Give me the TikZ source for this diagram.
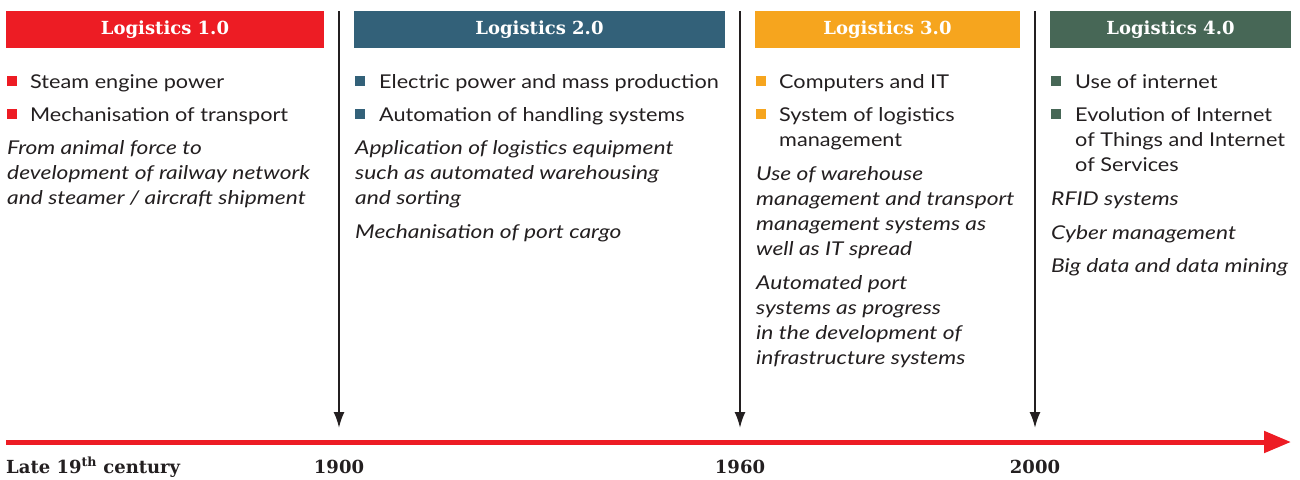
\documentclass[tikz,border=0pt]{standalone}
\usepackage{fontspec}
\setmainfont{Lato}[FakeStretch=1.14]
\newfontfamily\notefont{Lato}[FakeStretch=1.2]
\newfontfamily\headfont{DejaVu Serif}
\usetikzlibrary{positioning,arrows.meta}
\definecolor{logred}{HTML}{ED1C24}
\definecolor{logblue}{HTML}{336179}
\definecolor{logorange}{HTML}{F6A51E}
\definecolor{loggreen}{HTML}{476756}
\definecolor{logtext}{HTML}{231F20}
% multi-line nodes: the base anchor sits on the last line
\tikzset{head/.style = {rectangle,inner sep=0pt,minimum height=37pt,text=white,
                        font=\headfont\bfseries\fontsize{18}{20}\selectfont},
         bullet/.style = {rectangle,inner sep=0pt,minimum size=10pt},
         item/.style = {anchor=base west,inner sep=0pt,align=left,text=logtext,
                        font=\fontsize{19}{25}\selectfont},
         note/.style = {item,font=\notefont\itshape\fontsize{19}{25}\selectfont},
         era/.style = {draw=logtext,line width=2pt,-{Latex[length=16pt,width=11pt]}},
         year/.style = {anchor=base,inner sep=0pt,text=logtext,
                        font=\headfont\bfseries\fontsize{18}{22}\selectfont}}

\begin{document}
\begin{tikzpicture}[x=1pt,y=-1pt]
    \useasboundingbox (0,0) rectangle (1300,479);

    % headers
    \node [head,fill=logred,   minimum width=318pt] (h1) at ( 165,29.5) {Logistics 1.0};
    \node [head,fill=logblue,  minimum width=371pt] (h2) at (539.5,29.5) {Logistics 2.0};
    \node [head,fill=logorange,minimum width=265pt] (h3) at (887.5,29.5) {Logistics 3.0};
    \node [head,fill=loggreen, minimum width=241pt] (h4) at (1170.5,29.5) {Logistics 4.0};

    % Logistics 1.0
    \node [bullet,fill=logred] (b11) at (12,81) {};
    \node [bullet,fill=logred] (b12) at (12,114) {};
    \node [item] (i11) at (30,88)  {Steam engine power};
    \node [item] (i12) at (30,121) {Mechanisation of transport};
    \node [note] (n11) at (7,204)  {From animal force to\\development of railway network\\and steamer / aircraft shipment};

    % Logistics 2.0
    \node [bullet,fill=logblue] (b21) at (360,81) {};
    \node [bullet,fill=logblue] (b22) at (360,114) {};
    \node [item] (i21) at (379,88)  {Electric power and mass production};
    \node [item] (i22) at (379,121) {Automation of handling systems};
    \node [note] (n21) at (355,204) {Application of logistics equipment\\such as automated warehousing\\and sorting};
    \node [note] (n22) at (355,238) {Mechanisation of port cargo};

    % Logistics 3.0
    \node [bullet,fill=logorange] (b31) at (761,81) {};
    \node [bullet,fill=logorange] (b32) at (761,114) {};
    \node [item] (i31) at (779,88)  {Computers and IT};
    \node [item] (i32) at (779,146) {System of logistics\\management};
    \node [note] (n31) at (756,255) {Use of warehouse\\management and transport\\management systems as\\well as IT spread};
    \node [note] (n32) at (756,364) {Automated port\\systems as progress\\in the development of\\infrastructure systems};

    % Logistics 4.0
    \node [bullet,fill=loggreen] (b41) at (1056,81) {};
    \node [bullet,fill=loggreen] (b42) at (1056,114) {};
    \node [item] (i41) at (1075,88)  {Use of internet};
    \node [item] (i42) at (1075,171) {Evolution of Internet\\of Things and Internet\\of Services};
    \node [note] (n41) at (1051,205) {RFID systems};
    \node [note] (n42) at (1051,239) {Cyber management};
    \node [note] (n43) at (1051,272) {Big data and data mining};

    % time line
    \coordinate (axL) at (6,442);
    \coordinate (axR) at (1291,442);
    \draw [logred,line width=5pt,-{Triangle[length=27pt,width=21pt]}] (axL) -- (axR);

    \node [year,anchor=base west] (y0) at (6,473) {Late 19\textsuperscript{th} century};
    \node [year] (y1) at (339,473) {1900};
    \node [year] (y2) at (740,473) {1960};
    \node [year] (y3) at (1035,473) {2000};

    \coordinate (t1) at (339,11);  \coordinate (e1) at (339,428);
    \coordinate (t2) at (740,11);  \coordinate (e2) at (740,428);
    \coordinate (t3) at (1035,11); \coordinate (e3) at (1035,428);
    \draw [era] (t1) -- (e1);
    \draw [era] (t2) -- (e2);
    \draw [era] (t3) -- (e3);
\end{tikzpicture}
\end{document}
